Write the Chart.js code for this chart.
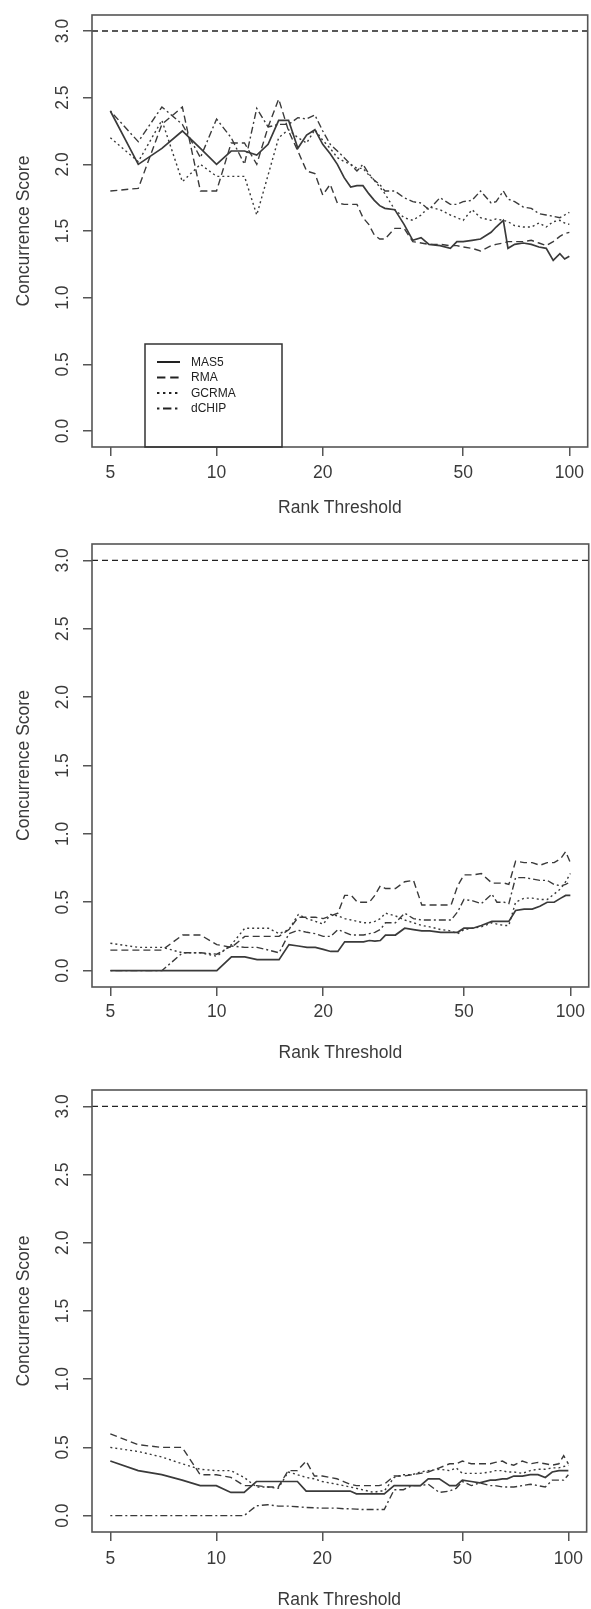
<!DOCTYPE html>
<html>
<head>
<meta charset="utf-8">
<script src="https://cdn.jsdelivr.net/npm/chart.js@4.4.0/dist/chart.umd.min.js"></script>
<style>
  body { margin: 0; background: #fff; }
  #wrap { position: relative; width: 591px; height: 1609px; }
  canvas { position: absolute; left: 0; }
</style>
</head>
<body>
<div id="wrap">
  <canvas id="p1" width="591" height="530" style="top:0"></canvas>
  <canvas id="p2" width="591" height="545" style="top:530px"></canvas>
  <canvas id="p3" width="591" height="534" style="top:1075px"></canvas>
</div>
<script>
// rank thresholds (x) shared by every series
const ranks = [5,6,7,8,9,10,11,12,13,14,15,16,17,18,19,20,21,22,23,24,25,26,27,28,29,30,
  32,34,36,38,40,43,46,48,50,53,56,60,62,65,67,70,74,78,82,86,90,94,97,100];
const seriesNames = ["MAS5", "RMA", "GCRMA", "dCHIP"];
const xTicks = [5, 10, 20, 50, 100];
const yTicks = [0, 0.5, 1, 1.5, 2, 2.5, 3];
const refLine = 3;

// panel 1
const p1Mas5 = [2.40,2.00,2.12,2.25,2.12,2.00,2.10,2.10,2.07,2.15,2.33,2.33,2.12,2.22,2.26,2.15,
  2.08,2.00,1.90,1.83,1.84,1.84,1.78,1.73,1.69,1.67,1.66,1.55,1.43,1.45,1.40,
  1.39,1.37,1.42,1.42,1.43,1.44,1.49,1.53,1.58,1.37,1.40,1.41,1.40,1.38,1.37,1.28,1.33,1.29,1.31];
const p1Rma = [1.80,1.82,2.30,2.43,1.80,1.80,2.16,2.16,2.00,2.28,2.49,2.25,2.10,1.95,1.93,1.77,
  1.85,1.71,1.70,1.70,1.70,1.60,1.55,1.47,1.44,1.44,1.52,1.52,1.42,1.41,1.40,
  1.40,1.39,1.39,1.38,1.37,1.35,1.39,1.40,1.41,1.42,1.42,1.42,1.43,1.41,1.39,1.42,1.46,1.48,1.49];
const p1Gcrma = [2.20,2.02,2.33,1.87,2.00,1.91,1.91,1.91,1.62,1.92,2.20,2.26,2.20,2.16,2.26,2.18,
  2.12,2.05,2.02,2.00,1.97,1.97,1.92,1.88,1.83,1.78,1.66,1.60,1.58,1.62,1.68,
  1.66,1.62,1.60,1.58,1.66,1.60,1.58,1.59,1.58,1.57,1.54,1.53,1.53,1.56,1.53,1.57,1.58,1.56,1.55];
const p1Dchip = [2.40,2.17,2.43,2.30,2.05,2.34,2.20,2.00,2.42,2.28,2.30,2.30,2.35,2.34,2.37,2.25,
  2.15,2.10,2.05,2.00,1.95,2.00,1.93,1.88,1.85,1.80,1.80,1.75,1.72,1.71,1.66,
  1.75,1.70,1.70,1.72,1.73,1.80,1.71,1.72,1.80,1.74,1.72,1.68,1.67,1.63,1.62,1.61,1.60,1.62,1.64];

// panel 2
const p2Mas5 = [0,0,0,0,0,0,0.10,0.10,0.08,0.08,0.08,0.19,0.18,0.17,0.17,0.155,
  0.14,0.14,0.21,0.21,0.21,0.21,0.22,0.215,0.22,0.26,0.26,0.31,0.30,0.29,0.29,
  0.28,0.28,0.28,0.31,0.31,0.33,0.36,0.36,0.36,0.36,0.44,0.45,0.45,0.47,0.50,0.50,0.53,0.55,0.55];
const p2Rma = [0.15,0.15,0.15,0.26,0.26,0.19,0.17,0.25,0.25,0.25,0.25,0.30,0.39,0.39,0.39,0.38,
  0.40,0.42,0.55,0.55,0.50,0.50,0.50,0.55,0.62,0.60,0.60,0.65,0.66,0.48,0.48,
  0.48,0.48,0.62,0.70,0.70,0.71,0.64,0.64,0.64,0.63,0.80,0.79,0.79,0.77,0.79,0.79,0.82,0.87,0.79];
const p2Gcrma = [0.20,0.17,0.17,0.13,0.13,0.105,0.19,0.31,0.31,0.31,0.27,0.30,0.41,0.38,0.36,0.34,
  0.41,0.40,0.38,0.37,0.36,0.35,0.35,0.36,0.38,0.42,0.40,0.37,0.35,0.33,0.32,
  0.30,0.29,0.27,0.30,0.31,0.32,0.35,0.34,0.33,0.33,0.50,0.53,0.53,0.52,0.52,0.56,0.60,0.65,0.71];
const p2Dchip = [0,0,0,0.13,0.13,0.12,0.18,0.17,0.17,0.15,0.13,0.27,0.295,0.28,0.27,0.25,
  0.25,0.30,0.28,0.26,0.26,0.26,0.27,0.28,0.30,0.35,0.35,0.42,0.38,0.37,0.37,
  0.37,0.37,0.43,0.52,0.51,0.49,0.56,0.50,0.50,0.49,0.68,0.68,0.67,0.66,0.66,0.63,0.62,0.63,0.65];

// panel 3
const p3Mas5 = [0.40,0.33,0.30,0.26,0.22,0.22,0.17,0.17,0.25,0.25,0.25,0.25,0.25,0.18,0.18,0.18,
  0.18,0.18,0.18,0.18,0.16,0.16,0.16,0.16,0.16,0.16,0.22,0.22,0.22,0.22,0.27,
  0.27,0.22,0.22,0.26,0.25,0.24,0.26,0.26,0.27,0.27,0.29,0.29,0.30,0.30,0.28,0.32,0.33,0.33,0.33];
const p3Rma = [0.60,0.52,0.50,0.50,0.30,0.30,0.28,0.22,0.22,0.21,0.21,0.33,0.33,0.40,0.29,0.29,
  0.28,0.27,0.25,0.23,0.22,0.22,0.22,0.22,0.22,0.23,0.29,0.29,0.30,0.31,0.32,
  0.35,0.38,0.38,0.40,0.38,0.38,0.38,0.39,0.40,0.38,0.37,0.40,0.38,0.39,0.38,0.37,0.38,0.44,0.38];
const p3Gcrma = [0.50,0.47,0.43,0.38,0.34,0.33,0.33,0.28,0.21,0.21,0.20,0.32,0.30,0.28,0.27,0.25,
  0.24,0.23,0.22,0.21,0.20,0.19,0.18,0.17,0.18,0.18,0.28,0.30,0.30,0.32,0.33,
  0.34,0.33,0.35,0.31,0.31,0.31,0.32,0.33,0.33,0.32,0.32,0.31,0.33,0.34,0.34,0.35,0.35,0.36,0.37];
const p3Dchip = [0,0,0,0,0,0,0,0,0.072,0.08,0.07,0.07,0.065,0.06,0.058,0.055,
  0.055,0.055,0.05,0.05,0.048,0.045,0.045,0.045,0.045,0.045,0.19,0.19,0.22,0.22,0.23,
  0.17,0.18,0.20,0.25,0.22,0.24,0.22,0.22,0.21,0.21,0.21,0.22,0.23,0.22,0.21,0.26,0.26,0.26,0.30];

const FONT = "'Liberation Sans', Arial, sans-serif";
const ink = "#3a3a3a";
const lineColor = "#3a3a3a";
const dashes = [[], [7, 4], [2, 3], [2, 3, 7, 3]];

// R style frame, dashed reference line, rotated y labels, axis titles, legend
const framePlugin = {
  id: "frame",
  afterDatasetsDraw(chart, args, opts) {
    const { ctx, chartArea: a, scales: { y } } = chart;
    ctx.save();
    ctx.strokeStyle = "#222";
    ctx.lineWidth = 1.3;
    ctx.setLineDash([6, 4]);
    const yr = y.getPixelForValue(refLine);
    ctx.beginPath();
    ctx.moveTo(a.left, yr);
    ctx.lineTo(a.right, yr);
    ctx.stroke();
    ctx.setLineDash([]);

    ctx.strokeStyle = "#555";
    ctx.lineWidth = 1.6;
    ctx.strokeRect(a.left, a.top, a.right - a.left, a.bottom - a.top);

    ctx.fillStyle = ink;
    ctx.font = "17.5px " + FONT;
    ctx.textAlign = "center";
    ctx.textBaseline = "middle";
    yTicks.forEach(v => {
      ctx.save();
      ctx.translate(63, y.getPixelForValue(v));
      ctx.rotate(-Math.PI / 2);
      ctx.fillText(v.toFixed(1), 0, 0);
      ctx.restore();
    });
    ctx.save();
    ctx.translate(24, (a.top + a.bottom) / 2);
    ctx.rotate(-Math.PI / 2);
    ctx.fillText("Concurrence Score", 0, 0);
    ctx.restore();
    ctx.fillText("Rank Threshold", (a.left + a.right) / 2, a.bottom + opts.titleGap);

    if (opts.legend) {
      const lx = a.left + 53, ly = a.top + 329;
      ctx.strokeStyle = "#333";
      ctx.lineWidth = 1.5;
      ctx.strokeRect(lx, ly, 137, a.bottom - ly);
      ctx.font = "12px " + FONT;
      ctx.textAlign = "left";
      seriesNames.forEach((name, i) => {
        const ry = ly + 18 + i * 15.5;
        ctx.strokeStyle = "#222";
        ctx.lineWidth = 2;
        ctx.setLineDash(dashes[i].length ? dashes[i].map(d => d * 1.2) : []);
        ctx.beginPath();
        ctx.moveTo(lx + 12, ry);
        ctx.lineTo(lx + 35, ry);
        ctx.stroke();
        ctx.setLineDash([]);
        ctx.fillStyle = "#222";
        ctx.fillText(name, lx + 46, ry + 0.5);
      });
    }
    ctx.restore();
  }
};

function makePanel(id, values, cfg) {
  new Chart(document.getElementById(id), {
    type: "line",
    data: {
      datasets: seriesNames.map((name, i) => ({
        label: name,
        data: ranks.map((r, k) => ({ x: r, y: values[i][k] })),
        borderColor: lineColor,
        borderWidth: i === 0 ? 1.7 : 1.4,
        borderDash: dashes[i],
        pointRadius: 0,
        tension: 0,
        fill: false
      }))
    },
    options: {
      responsive: false,
      animation: false,
      events: [],
      layout: { padding: { top: cfg.top, right: 1.5, bottom: 0, left: 0 } },
      plugins: {
        legend: { display: false },
        tooltip: { enabled: false },
        frame: { legend: cfg.legend, titleGap: cfg.titleGap }
      },
      scales: {
        x: {
          type: "logarithmic",
          min: 5 / Math.pow(10, 0.052),
          max: 100 * Math.pow(10, 0.052),
          afterBuildTicks: s => { s.ticks = xTicks.map(v => ({ value: v })); },
          afterFit: s => { s.height = cfg.xHeight; },
          ticks: {
            autoSkip: false, maxRotation: 0, padding: cfg.labelPad,
            color: ink, font: { family: FONT, size: 17.5 },
            callback: v => String(v)
          },
          grid: { display: true, drawOnChartArea: false, drawTicks: true, tickLength: 9, color: "#555", lineWidth: 1.5 },
          border: { display: false }
        },
        y: {
          min: -0.12,
          max: 3.12,
          afterBuildTicks: s => { s.ticks = yTicks.map(v => ({ value: v })); },
          afterFit: s => { s.width = 92; },
          ticks: { display: false },
          grid: { display: true, drawOnChartArea: false, drawTicks: true, tickLength: 9, color: "#555", lineWidth: 1.5 },
          border: { display: false }
        }
      }
    },
    plugins: [framePlugin]
  });
}

makePanel("p1", [p1Mas5, p1Rma, p1Gcrma, p1Dchip], { top: 15, xHeight: 83, labelPad: 7, titleGap: 61, legend: true });
makePanel("p2", [p2Mas5, p2Rma, p2Gcrma, p2Dchip], { top: 14, xHeight: 88, labelPad: 6, titleGap: 66, legend: false });
makePanel("p3", [p3Mas5, p3Rma, p3Gcrma, p3Dchip], { top: 15, xHeight: 77, labelPad: 8, titleGap: 68, legend: false });
</script>
</body>
</html>
